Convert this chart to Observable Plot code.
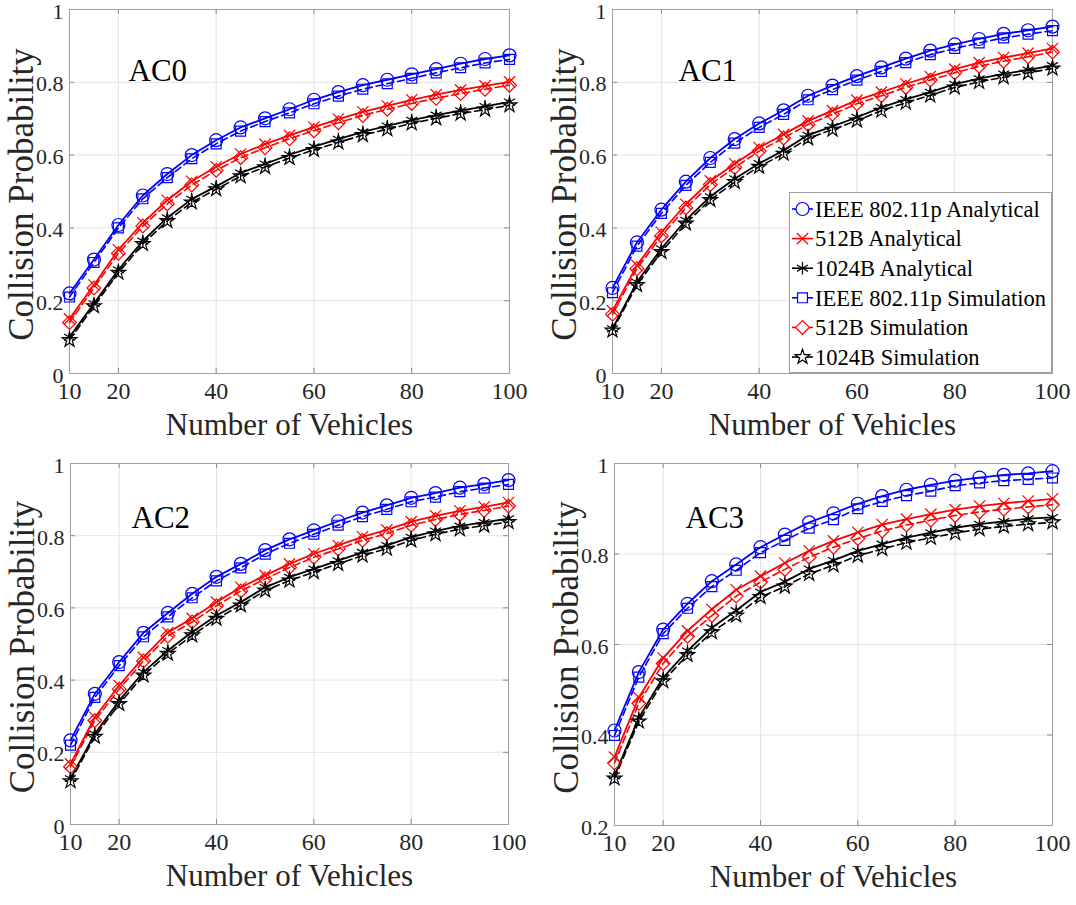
<!DOCTYPE html>
<html><head><meta charset="utf-8">
<script src="https://cdn.jsdelivr.net/npm/d3@7"></script>
<script src="https://cdn.jsdelivr.net/npm/@observablehq/plot@0.6"></script>
<style>
html,body{margin:0;padding:0;background:#fff;}
#chart{position:relative;width:1076px;height:905px;background:#fff;overflow:hidden;}
.panel{position:absolute;}
.panel svg{overflow:visible;}
#chart svg text{font-family:"Liberation Serif","Times New Roman",serif;}
</style></head><body><div id="chart"></div>
<script>
// ---------- data ----------
const vehicles = [10,15,20,25,30,35,40,45,50,55,60,65,70,75,80,85,90,95,100];
const xTicks = [10,20,40,60,80,100];
const yTicksFull = [0,0.2,0.4,0.6,0.8,1];
const yTicksAC3 = [0.2,0.4,0.6,0.8,1];
const seriesNames = ["IEEE 802.11p Analytical","512B Analytical","1024B Analytical","IEEE 802.11p Simulation","512B Simulation","1024B Simulation"];
const panelNames = ["AC0","AC1","AC2","AC3"];
const xLabel = "Number of Vehicles";
const yLabel = "Collision Probability";

// AC0
const ac0_ieee_ana = [0.220,0.313,0.408,0.489,0.548,0.600,0.641,0.676,0.701,0.726,0.752,0.773,0.792,0.807,0.822,0.836,0.851,0.864,0.874];
const ac0_512_ana  = [0.150,0.243,0.340,0.414,0.476,0.528,0.568,0.603,0.630,0.654,0.677,0.699,0.719,0.735,0.752,0.766,0.779,0.790,0.801];
const ac0_1024_ana = [0.100,0.192,0.285,0.364,0.428,0.479,0.514,0.551,0.576,0.601,0.623,0.644,0.664,0.680,0.696,0.710,0.722,0.734,0.746];
const ac0_ieee_sim = [0.210,0.305,0.400,0.480,0.538,0.590,0.631,0.666,0.692,0.716,0.741,0.762,0.781,0.796,0.811,0.826,0.840,0.853,0.863];
const ac0_512_sim  = [0.140,0.235,0.330,0.405,0.466,0.518,0.558,0.593,0.620,0.645,0.667,0.689,0.709,0.726,0.742,0.756,0.769,0.781,0.792];
const ac0_1024_sim = [0.092,0.185,0.277,0.356,0.419,0.470,0.506,0.542,0.567,0.592,0.614,0.635,0.655,0.671,0.687,0.701,0.714,0.725,0.737];
// AC1
const ac1_ieee_ana = [0.235,0.360,0.450,0.527,0.592,0.644,0.687,0.723,0.763,0.791,0.817,0.841,0.865,0.887,0.904,0.919,0.933,0.943,0.953];
const ac1_512_ana  = [0.172,0.297,0.388,0.465,0.529,0.576,0.621,0.657,0.694,0.722,0.751,0.773,0.796,0.816,0.836,0.854,0.868,0.880,0.893];
const ac1_1024_ana = [0.123,0.251,0.343,0.421,0.486,0.535,0.577,0.613,0.655,0.679,0.704,0.731,0.753,0.773,0.795,0.810,0.823,0.834,0.846];
const ac1_ieee_sim = [0.222,0.350,0.440,0.517,0.580,0.633,0.676,0.712,0.752,0.780,0.806,0.830,0.854,0.876,0.893,0.908,0.922,0.932,0.942];
const ac1_512_sim  = [0.163,0.288,0.378,0.455,0.519,0.566,0.611,0.647,0.684,0.712,0.741,0.763,0.786,0.806,0.826,0.844,0.858,0.870,0.883];
const ac1_1024_sim = [0.118,0.243,0.334,0.412,0.477,0.526,0.568,0.604,0.646,0.670,0.695,0.722,0.744,0.764,0.786,0.801,0.814,0.826,0.838];
// AC2
const ac2_ieee_ana = [0.233,0.362,0.450,0.531,0.586,0.639,0.686,0.722,0.760,0.790,0.815,0.840,0.864,0.884,0.905,0.918,0.933,0.943,0.954];
const ac2_512_ana  = [0.168,0.297,0.385,0.463,0.532,0.571,0.616,0.657,0.690,0.722,0.750,0.773,0.797,0.816,0.839,0.855,0.869,0.880,0.892];
const ac2_1024_ana = [0.127,0.251,0.343,0.422,0.482,0.533,0.579,0.616,0.657,0.685,0.708,0.731,0.754,0.773,0.796,0.813,0.827,0.837,0.847];
const ac2_ieee_sim = [0.220,0.352,0.440,0.520,0.575,0.628,0.675,0.711,0.749,0.779,0.804,0.829,0.853,0.873,0.894,0.907,0.922,0.932,0.942];
const ac2_512_sim  = [0.160,0.288,0.375,0.453,0.522,0.561,0.606,0.647,0.680,0.712,0.740,0.763,0.787,0.806,0.829,0.845,0.859,0.870,0.882];
const ac2_1024_sim = [0.120,0.243,0.334,0.413,0.473,0.524,0.570,0.607,0.648,0.676,0.699,0.722,0.745,0.764,0.787,0.804,0.818,0.828,0.838];
// AC3
const ac3_ieee_ana = [0.410,0.539,0.633,0.690,0.740,0.777,0.815,0.843,0.870,0.890,0.911,0.928,0.942,0.953,0.962,0.969,0.975,0.978,0.983];
const ac3_512_ana  = [0.351,0.483,0.570,0.630,0.678,0.721,0.751,0.780,0.807,0.829,0.848,0.865,0.877,0.888,0.898,0.906,0.912,0.917,0.922];
const ac3_1024_ana = [0.310,0.438,0.527,0.586,0.637,0.675,0.716,0.739,0.767,0.786,0.807,0.822,0.836,0.847,0.858,0.866,0.872,0.878,0.881];
const ac3_ieee_sim = [0.399,0.528,0.624,0.680,0.728,0.764,0.803,0.830,0.857,0.876,0.900,0.916,0.929,0.939,0.951,0.957,0.962,0.965,0.968];
const ac3_512_sim  = [0.338,0.470,0.558,0.618,0.664,0.707,0.738,0.766,0.793,0.815,0.834,0.851,0.864,0.875,0.885,0.893,0.899,0.904,0.909];
const ac3_1024_sim = [0.304,0.430,0.519,0.577,0.627,0.664,0.705,0.728,0.756,0.775,0.796,0.811,0.825,0.836,0.846,0.855,0.861,0.866,0.870];

// ---------- styles ----------
const FONT = '"Liberation Serif","Times New Roman",serif';
const seriesStyle = [
  {color:"#0000ff", symbol:"circle",   r:6.5, dash:null},
  {color:"#ff0000", symbol:"times",    r:5.2, dash:null},
  {color:"#000000", symbol:"asterisk", r:6,   dash:null},
  {color:"#0000ff", symbol:"square",   r:5.6, dash:"7,4"},
  {color:"#ff0000", symbol:"diamond2", r:6.2, dash:"7,4"},
  {color:"#000000", symbol:"star",     r:4.6, dash:"7,4"}
];
const d3Symbols = {circle:d3.symbolCircle, times:d3.symbolTimes, asterisk:d3.symbolAsterisk,
  square:d3.symbolSquare, diamond2:d3.symbolDiamond2, star:d3.symbolStar};

const panels = [
  {name:panelNames[0], series:[ac0_ieee_ana,ac0_512_ana,ac0_1024_ana,ac0_ieee_sim,ac0_512_sim,ac0_1024_sim],
   yDomain:[0,1], yTicks:yTicksFull, left:0, top:0, width:538, height:450,
   m:{top:9,right:29,bottom:77,left:69}, lab:{dx:59, dy:49}},
  {name:panelNames[1], series:[ac1_ieee_ana,ac1_512_ana,ac1_1024_ana,ac1_ieee_sim,ac1_512_sim,ac1_1024_sim],
   yDomain:[0,1], yTicks:yTicksFull, left:538, top:0, width:538, height:450,
   m:{top:9,right:24,bottom:77,left:74}, lab:{dx:66, dy:49}},
  {name:panelNames[2], series:[ac2_ieee_ana,ac2_512_ana,ac2_1024_ana,ac2_ieee_sim,ac2_512_sim,ac2_1024_sim],
   yDomain:[0,1], yTicks:yTicksFull, left:0, top:450, width:538, height:455,
   m:{top:13,right:30,bottom:81,left:70}, lab:{dx:61, dy:42}},
  {name:panelNames[3], series:[ac3_ieee_ana,ac3_512_ana,ac3_1024_ana,ac3_ieee_sim,ac3_512_sim,ac3_1024_sim],
   yDomain:[0.2,1], yTicks:yTicksAC3, left:538, top:450, width:538, height:455,
   m:{top:13,right:24,bottom:80,left:76}, lab:{dx:71, dy:42}}
];

const chart = document.getElementById("chart");

for (const p of panels) {
  const innerH = p.height - p.m.top - p.m.bottom;
  const innerW = p.width - p.m.left - p.m.right;
  const marks = [
    Plot.gridX({ticks:xTicks, stroke:"#e4e4e4", strokeOpacity:1}),
    Plot.gridY({ticks:p.yTicks, stroke:"#e4e4e4", strokeOpacity:1}),
    Plot.ruleX(xTicks, {stroke:"#8a8a8a", insetTop: innerH - 5}),
    Plot.ruleX(xTicks, {stroke:"#8a8a8a", insetBottom: innerH - 5}),
    Plot.ruleY(p.yTicks, {stroke:"#8a8a8a", insetRight: innerW - 5}),
    Plot.ruleY(p.yTicks, {stroke:"#8a8a8a", insetLeft: innerW - 5}),
    Plot.frame({stroke:"#a0a0a0"}),
    Plot.axisX({ticks:xTicks, tickSize:0, tickPadding:8, label:null, fontSize:24, fill:"#262626", fontFamily:FONT, tickFormat:d => String(d)}),
    Plot.axisY({ticks:p.yTicks, tickSize:0, tickPadding:6, label:null, fontSize:22, fill:"#262626", fontFamily:FONT, dy:2, tickFormat:d => String(d)})
  ];
  p.series.forEach((vals, s) => {
    const st = seriesStyle[s];
    const rows = vals.map((v, i) => ({x: vehicles[i], y: v}));
    marks.push(Plot.line(rows, {x:"x", y:"y", stroke:st.color, strokeWidth: st.dash ? 1.6 : 1.8, strokeDasharray: st.dash || undefined}));
  });
  p.series.forEach((vals, s) => {
    const st = seriesStyle[s];
    const rows = vals.map((v, i) => ({x: vehicles[i], y: v}));
    marks.push(Plot.dot(rows, {x:"x", y:"y", symbol:st.symbol, r:st.r, stroke:st.color, fill:"none", strokeWidth:1.2}));
  });
  marks.push(Plot.text([p.name], {frameAnchor:"top-left", textAnchor:"start", dx:p.lab.dx, dy:p.lab.dy, fontSize:31, fill:"#000", fontFamily:FONT}));
  marks.push(Plot.text([xLabel], {frameAnchor:"bottom", textAnchor:"middle", dy:61, fontSize:31, fill:"#262626", fontFamily:FONT}));
  marks.push(Plot.text([yLabel], {frameAnchor:"left", textAnchor:"middle", rotate:-90, dx:-47.5, dy:3, fontSize:35, fill:"#262626", fontFamily:FONT}));

  const svg = Plot.plot({
    width:p.width, height:p.height,
    marginTop:p.m.top, marginRight:p.m.right, marginBottom:p.m.bottom, marginLeft:p.m.left,
    x:{domain:[10,100]}, y:{domain:p.yDomain},
    style:{background:"transparent", fontFamily:FONT, overflow:"visible"},
    marks
  });
  const div = document.createElement("div");
  div.className = "panel";
  div.style.left = p.left + "px";
  div.style.top = p.top + "px";
  div.appendChild(svg);
  chart.appendChild(div);
}

// ---------- legend (inside AC1 panel) ----------
const LW = 263, LH = 181;
const leg = d3.select(chart).append("div")
  .style("position","absolute").style("left","789px").style("top","192px")
  .style("width", LW + "px").style("height", LH + "px");
const lsvg = leg.append("svg").attr("width", LW).attr("height", LH).style("display","block");
lsvg.append("rect").attr("x",0.5).attr("y",0.5).attr("width",LW-1).attr("height",LH-1)
  .attr("fill","#fff").attr("stroke","#a0a0a0");
seriesNames.forEach((name, i) => {
  const st = seriesStyle[i];
  const y = 17 + i * 29.6;
  const g = lsvg.append("g");
  g.append("line").attr("x1",3).attr("x2",24).attr("y1",y).attr("y2",y)
    .attr("stroke",st.color).attr("stroke-width",1.6);
  g.append("path").attr("d", d3.symbol(d3Symbols[st.symbol], Math.PI * st.r * st.r)())
    .attr("transform",`translate(13.5,${y})`).attr("fill", st.symbol === "circle" || st.symbol === "square" || st.symbol === "diamond2" || st.symbol === "star" ? "#fff" : "none")
    .attr("stroke",st.color).attr("stroke-width",1.2);
  g.append("text").attr("x",26).attr("y",y).attr("dy","0.35em")
    .attr("font-family",FONT).attr("font-size",22.5).attr("fill","#000").text(name);
});
</script>
</body></html>
